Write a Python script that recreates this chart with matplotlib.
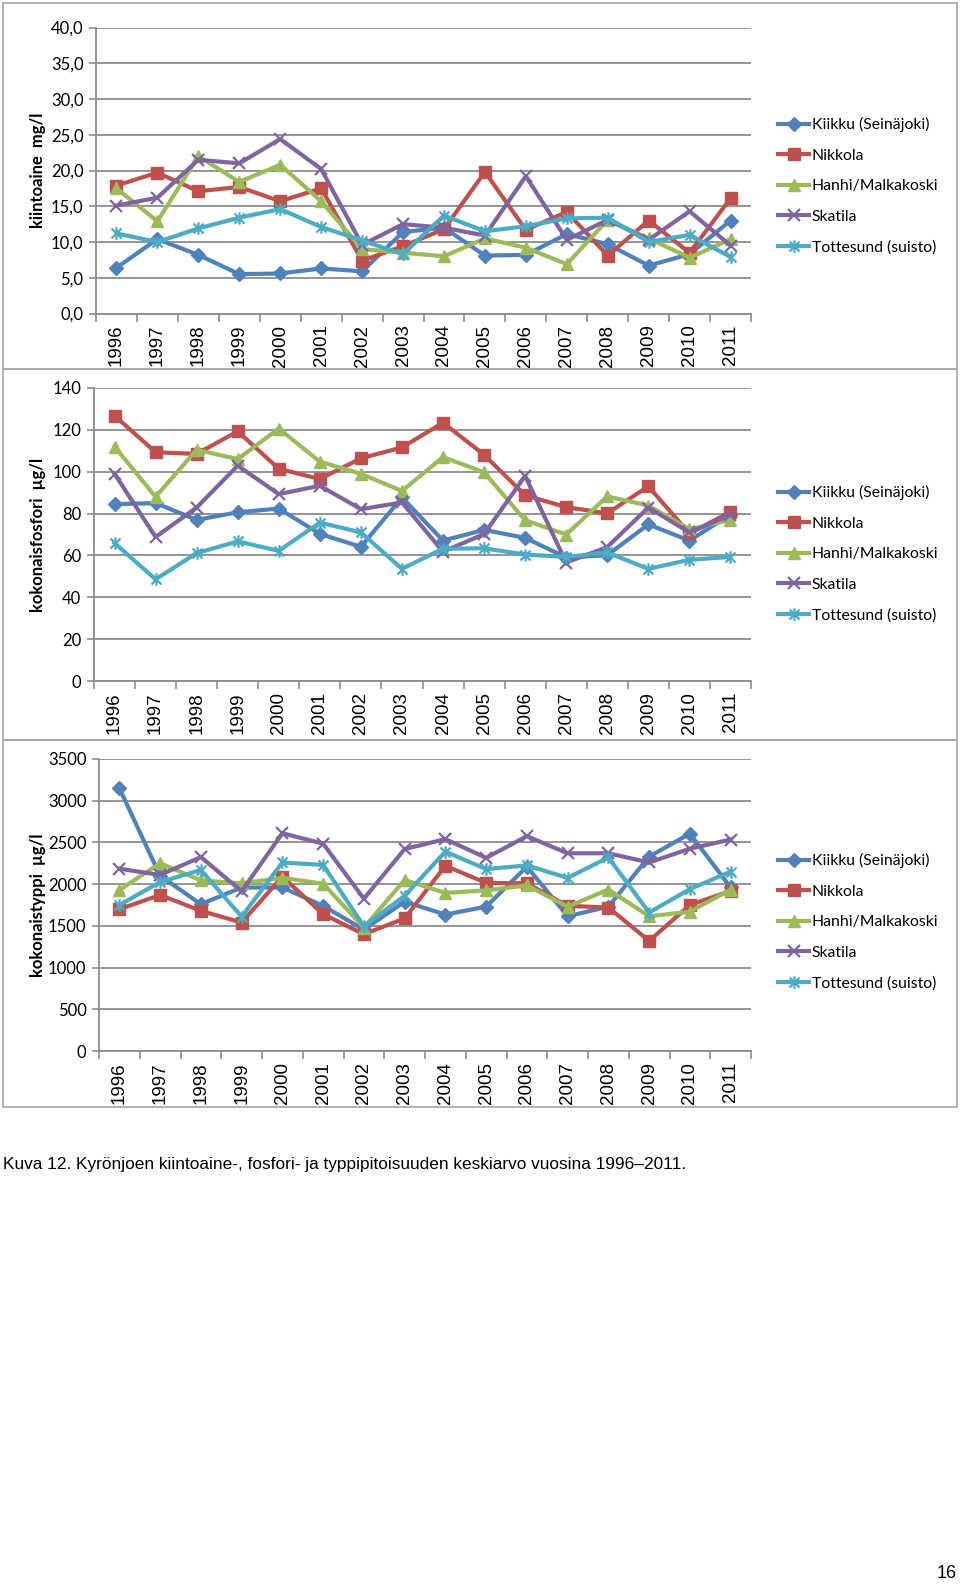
import matplotlib
matplotlib.use("Agg")
import matplotlib.pyplot as plt
from matplotlib.path import Path
from matplotlib.patches import Rectangle
from matplotlib.ticker import FixedLocator, FuncFormatter

years = [str(y) for y in range(1996, 2012)]
series_names = ["Kiikku (Seinäjoki)", "Nikkola", "Hanhi/Malkakoski", "Skatila", "Tottesund (suisto)"]

# kiintoaine mg/l
kiinto_kiikku = [6.4, 10.4, 8.2, 5.5, 5.6, 6.3, 5.9, 11.4, 12.0, 8.1, 8.2, 11.1, 9.7, 6.7, 8.3, 13.0]
kiinto_nikkola = [17.9, 19.7, 17.1, 17.7, 15.7, 17.5, 7.4, 9.4, 11.8, 19.8, 11.7, 14.2, 8.1, 13.0, 8.5, 16.1]
kiinto_hanhi = [17.5, 12.9, 22.0, 18.4, 20.8, 15.7, 9.0, 8.5, 8.0, 10.5, 9.2, 6.9, 13.1, 10.5, 7.8, 10.4]
kiinto_skatila = [15.1, 16.2, 21.5, 21.0, 24.4, 20.2, 9.6, 12.5, 12.0, 10.9, 19.2, 10.3, 13.1, 10.3, 14.3, 9.5]
kiinto_tottesund = [11.2, 10.0, 11.9, 13.4, 14.6, 12.1, 10.2, 8.3, 13.7, 11.5, 12.2, 13.3, 13.4, 10.0, 11.0, 7.9]

# kokonaisfosfori ug/l
fosfori_kiikku = [84.5, 85.0, 77.0, 80.6, 82.4, 70.3, 64.1, 87.7, 67.1, 72.2, 68.4, 59.0, 60.1, 74.8, 67.1, 79.5]
fosfori_nikkola = [126.8, 109.3, 108.5, 119.3, 101.4, 96.5, 106.4, 111.6, 123.4, 108.1, 88.7, 83.1, 80.1, 93.0, 70.5, 80.8]
fosfori_hanhi = [112.0, 88.0, 110.5, 106.0, 120.6, 104.8, 99.0, 90.8, 107.0, 99.7, 76.8, 70.0, 88.2, 83.8, 72.5, 77.0]
fosfori_skatila = [99.0, 68.8, 82.9, 102.9, 89.3, 93.3, 82.1, 85.3, 61.8, 70.2, 98.0, 56.6, 64.0, 82.9, 71.0, 79.4]
fosfori_tottesund = [65.9, 48.6, 61.1, 66.7, 62.2, 75.7, 71.0, 53.6, 63.2, 63.4, 60.4, 59.3, 61.4, 53.6, 57.9, 59.3]

# kokonaistyppi ug/l
typpi_kiikku = [3150, 2100, 1760, 1960, 1960, 1740, 1455, 1790, 1635, 1730, 2210, 1615, 1730, 2330, 2605, 1960]
typpi_nikkola = [1700, 1870, 1680, 1540, 2090, 1640, 1400, 1590, 2220, 2015, 2010, 1740, 1720, 1320, 1750, 1920]
typpi_hanhi = [1930, 2250, 2045, 2010, 2075, 2005, 1480, 2050, 1895, 1925, 1985, 1730, 1935, 1615, 1670, 1935]
typpi_skatila = [2185, 2110, 2325, 1915, 2610, 2485, 1825, 2420, 2540, 2315, 2575, 2370, 2370, 2260, 2425, 2535]
typpi_tottesund = [1750, 2025, 2170, 1610, 2260, 2230, 1495, 1860, 2390, 2180, 2225, 2075, 2320, 1660, 1940, 2150]

colors = ["#4F81BD", "#C0504D", "#9BBB59", "#8064A2", "#4BACC6"]
star = Path([(0, -1), (0, 1), (-0.8, -0.8), (0.8, 0.8), (-0.8, 0.8), (0.8, -0.8)],
            [Path.MOVETO, Path.LINETO, Path.MOVETO, Path.LINETO, Path.MOVETO, Path.LINETO])
markers = [dict(marker="D", ms=7.5),
           dict(marker="s", ms=9),
           dict(marker="^", ms=9),
           dict(marker="x", ms=8, mew=1.6),
           dict(marker=star, ms=9, mew=1.6)]

plt.rcParams["font.family"] = ["Lato", "DejaVu Sans"]

W, H = 960, 1584
fig = plt.figure(figsize=(W / 100, H / 100), dpi=100)

grid_col = "#8C8C8C"


def px_axes(x0, x1, ytop, ybot):
    return fig.add_axes([x0 / W, 1 - ybot / H, (x1 - x0) / W, (ybot - ytop) / H])


panels = [
    dict(data=[kiinto_kiikku, kiinto_nikkola, kiinto_hanhi, kiinto_skatila, kiinto_tottesund],
         ymax=40, step=5, fmt=lambda v, p: f"{v:.1f}".replace(".", ","),
         label="kiintoaine  mg/l", box=(3, 3, 957, 369), ax=(96, 751, 27.5, 313.5), leg_y=186),
    dict(data=[fosfori_kiikku, fosfori_nikkola, fosfori_hanhi, fosfori_skatila, fosfori_tottesund],
         ymax=140, step=20, fmt=lambda v, p: f"{v:.0f}",
         label="kokonaisfosfori  µg/l", box=(3, 369, 957, 740), ax=(94, 751, 388, 681), leg_y=554),
    dict(data=[typpi_kiikku, typpi_nikkola, typpi_hanhi, typpi_skatila, typpi_tottesund],
         ymax=3500, step=500, fmt=lambda v, p: f"{v:.0f}",
         label="kokonaistyppi  µg/l", box=(3, 740, 957, 1107), ax=(99, 751, 759, 1051), leg_y=922),
]

for pnl in panels:
    bx0, by0, bx1, by1 = pnl["box"]
    fig.patches.append(Rectangle((bx0 / W, 1 - by1 / H), (bx1 - bx0) / W, (by1 - by0) / H,
                                 transform=fig.transFigure, fill=False, edgecolor="#A6A6A6", lw=1.2))
    x0, x1, yt, yb = pnl["ax"]
    ax = px_axes(x0, x1, yt, yb)
    xs = list(range(len(years)))
    handles = []
    for vals, c, mk, name in zip(pnl["data"], colors, markers, series_names):
        h, = ax.plot(xs, vals, color=c, lw=3, mfc=c, mec=c, label=name, **mk)
        handles.append(h)
    ax.set_xlim(-0.5, len(years) - 0.5)
    ax.set_ylim(0, pnl["ymax"])
    ticks = list(range(0, pnl["ymax"] + 1, pnl["step"]))
    ax.yaxis.set_major_locator(FixedLocator(ticks))
    ax.yaxis.set_major_formatter(FuncFormatter(pnl["fmt"]))
    ax.grid(axis="y", color=grid_col, lw=1.3)
    ax.set_axisbelow(True)
    ax.set_xticks(xs)
    ax.set_xticklabels(years, rotation=90, fontsize=13.5, family=["Liberation Sans"])
    ax.set_xticks([x - 0.5 for x in range(len(years) + 1)], minor=True)
    ax.tick_params(axis="x", which="major", length=0, pad=8)
    ax.tick_params(axis="x", which="minor", length=6, color=grid_col, width=1.2, direction="out")
    ax.tick_params(axis="y", length=5, color=grid_col, width=1.2, labelsize=12, pad=4)
    for s in ["top", "right"]:
        ax.spines[s].set_visible(False)
    for s in ["left", "bottom"]:
        ax.spines[s].set_color(grid_col)
        ax.spines[s].set_linewidth(1.3)
    ax.set_ylabel(pnl["label"], fontsize=12, fontweight="bold")
    ax.yaxis.set_label_coords((46 - x0) / (x1 - x0), 0.5)
    fig.legend(handles=handles, loc="center left",
               bbox_to_anchor=(778 / W, 1 - pnl["leg_y"] / H), frameon=False,
               fontsize=11.3, handlelength=2.0, handletextpad=0.15, labelspacing=1.05,
               borderpad=0, borderaxespad=0)

fig.text(3 / W, 1 - 1165 / H,
         "Kuva 12. Kyrönjoen kiintoaine-, fosfori- ja typpipitoisuuden keskiarvo vuosina 1996–2011.",
         fontsize=12.4, family=["Liberation Sans"], va="center", ha="left")
fig.text(957 / W, 1 - 1574 / H, "16", fontsize=13, family=["Liberation Sans"], va="center", ha="right")

fig.savefig("out.png", dpi=100, facecolor="white")
